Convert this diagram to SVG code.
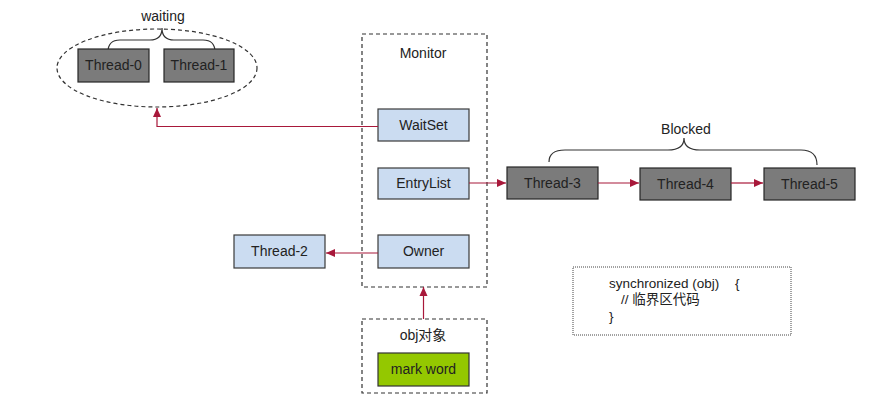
<svg xmlns="http://www.w3.org/2000/svg" width="893" height="401" viewBox="0 0 893 401">
<defs>
<style>
.t{font-family:"Liberation Sans",Arial,sans-serif;font-size:14px;fill:#222;text-anchor:middle}
.c{font-family:"Liberation Sans","Noto Sans CJK SC",sans-serif;font-size:13.5px;fill:#222}
.gray{fill:#7b7b7b;stroke:#262626;stroke-width:1.2}
.blue{fill:#cbdcf1;stroke:#3a3a3a;stroke-width:1.2}
.dash{fill:none;stroke:#333;stroke-width:1.2;stroke-dasharray:4 3}
.brace{fill:none;stroke:#333;stroke-width:1.2}
.con{fill:none;stroke:#a8183a;stroke-width:1.2}
</style>
<marker id="ah" markerWidth="10" markerHeight="10" refX="9" refY="5" orient="auto" markerUnits="userSpaceOnUse">
<path d="M0,1 L9,5 L0,9 Z" fill="#a8183a"/>
</marker>
</defs>
<rect width="893" height="401" fill="#fff"/>

<g id="waiting">
<ellipse cx="157" cy="68" rx="100" ry="39" class="dash"/>
<text class="t" x="163" y="21">waiting</text>
<path class="brace" d="M108,52 Q108,40 120,40 L150,40 Q162,40 162,28 Q162,40 174,40 L203,40 Q215,40 215,52"/>
</g>
<g id="thread0"><rect class="gray" x="78" y="49" width="71" height="33"/><text class="t" x="113.5" y="70">Thread-0</text></g>
<g id="thread1"><rect class="gray" x="164" y="49" width="70" height="33"/><text class="t" x="199" y="70">Thread-1</text></g>

<g id="monitor">
<rect class="dash" x="362" y="34" width="125" height="253"/>
<text class="t" x="423" y="58">Monitor</text>
</g>
<g id="waitset"><rect class="blue" x="378" y="109" width="91" height="32"/><text class="t" x="423.5" y="130">WaitSet</text></g>
<g id="entrylist"><rect class="blue" x="378" y="168" width="91" height="31"/><text class="t" x="423.5" y="188">EntryList</text></g>
<g id="owner"><rect class="blue" x="378" y="235" width="91" height="33"/><text class="t" x="423.5" y="256">Owner</text></g>

<g id="thread2"><rect class="blue" x="234" y="235" width="91" height="33"/><text class="t" x="279.5" y="256">Thread-2</text></g>

<g id="blocked">
<text class="t" x="686" y="134">Blocked</text>
<path class="brace" d="M549,162 Q549,150 565,150 L668,150 Q684,150 684,138 Q684,150 700,150 L801,150 Q817,150 817,165"/>
</g>
<g id="thread3"><rect class="gray" x="507" y="167" width="91" height="32"/><text class="t" x="552.5" y="188">Thread-3</text></g>
<g id="thread4"><rect class="gray" x="640" y="168" width="91" height="32"/><text class="t" x="685.5" y="189">Thread-4</text></g>
<g id="thread5"><rect class="gray" x="764" y="168" width="91" height="32"/><text class="t" x="809.5" y="189">Thread-5</text></g>

<g id="obj">
<rect class="dash" x="362" y="319" width="125" height="74"/>
<text class="t" x="423" y="340" style="font-family:'Liberation Sans','Noto Sans CJK SC',sans-serif">obj对象</text>
</g>
<g id="markword"><rect x="378" y="353" width="91" height="33" fill="#94c800" stroke="#333" stroke-width="1.2"/><text class="t" x="423.5" y="374">mark word</text></g>

<g id="code">
<rect x="573" y="267" width="218" height="68" fill="none" stroke="#444" stroke-width="1" stroke-dasharray="1 1"/>
<text class="c" x="609" y="288">synchronized (obj)</text>
<text class="c" x="735" y="288">{</text>
<text class="c" x="621" y="304">// 临界区代码</text>
<text class="c" x="609" y="321">}</text>
</g>

<g id="connectors">
<path class="con" d="M378,126.5 L157,126.5 L157,108" marker-end="url(#ah)"/>
<path class="con" d="M469,183 L506,183" marker-end="url(#ah)"/>
<path class="con" d="M598,183 L639,183" marker-end="url(#ah)"/>
<path class="con" d="M731,183 L763,183" marker-end="url(#ah)"/>
<path class="con" d="M378,253 L326,253" marker-end="url(#ah)"/>
<path class="con" d="M423.5,319 L423.5,287" marker-end="url(#ah)"/>
</g>
</svg>
